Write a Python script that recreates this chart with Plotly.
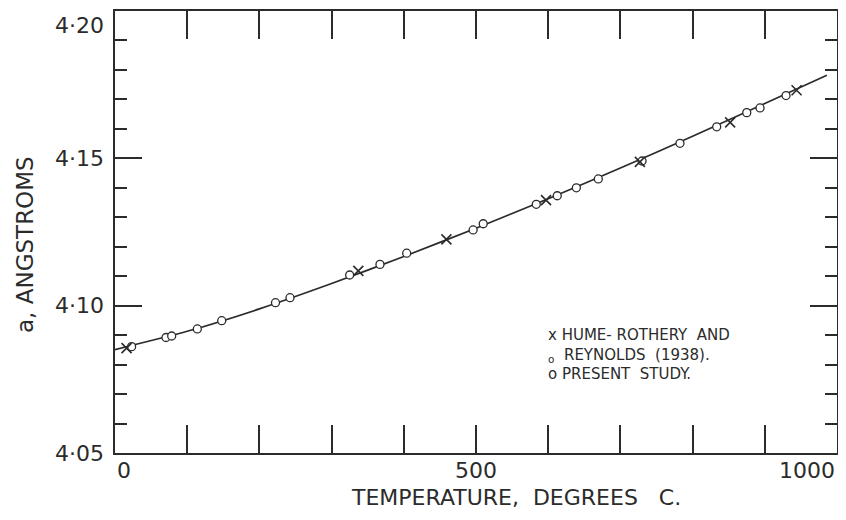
import plotly.graph_objects as go

# ---- data ----
present_x = [23, 70.6, 78.5, 114, 147.8, 222.3, 242.4, 325, 367, 404, 496, 510,
             583.5, 612.5, 639, 669.4, 730, 782.5, 833.4, 875, 893.4, 929.4]
present_y = [4.0861, 4.0892, 4.0897, 4.0921, 4.0949, 4.1010, 4.1027, 4.1104, 4.1140,
             4.1178, 4.1257, 4.1278, 4.1344, 4.1373, 4.1400, 4.1430, 4.1491, 4.1551,
             4.1607, 4.1655, 4.1671, 4.1713]

hr_x = [16, 337, 459, 597, 727, 852, 944]
hr_y = [4.0856, 4.1118, 4.1225, 4.1358, 4.1488, 4.1622, 4.1731]

curve_x = [0, 100, 200, 300, 400, 500, 600, 700, 800, 900, 986]
curve_y = [4.0851, 4.0913, 4.0989, 4.1075, 4.1167, 4.1263, 4.1363, 4.1467,
           4.1575, 4.1686, 4.1782]

y_tick_vals = [4.05, 4.10, 4.15, 4.20]
y_tick_text = ["4·05", "4·10", "4·15", "4·20"]
y_label_anchor = ["middle", "middle", "middle", "top"]
x_label_vals = [0, 500, 1000]
x_label_text = ["0", "500", "1000"]
x_label_anchor = ["left", "center", "right"]

legend_lines = ["x HUME- ROTHERY  AND", "<sub>o</sub>  REYNOLDS  (1938).", "o PRESENT  STUDY."]

INK = "#2b2b2b"
FONT = "DejaVu Sans"

fig = go.Figure()
fig.add_trace(go.Scatter(x=curve_x, y=curve_y, mode="lines",
                         line=dict(color=INK, width=1.7, shape="spline", smoothing=0.6),
                         hoverinfo="skip"))
fig.add_trace(go.Scatter(x=present_x, y=present_y, mode="markers",
                         marker=dict(symbol="circle", size=8, color="white",
                                     line=dict(color=INK, width=1.3))))
fig.add_trace(go.Scatter(x=hr_x, y=hr_y, mode="markers",
                         marker=dict(symbol="x-thin-open", size=10, color=INK,
                                     line=dict(color=INK, width=1.6))))

# the page body adds an 8px offset, so the figure is sized to fit the window
fig.update_layout(
    template="none",
    width=838, height=512,
    margin=dict(l=107, r=9, t=3, b=67, autoexpand=False),
    paper_bgcolor="white", plot_bgcolor="white",
    showlegend=False,
    font=dict(family=FONT, color=INK),
)

fig.update_xaxes(
    range=[0, 1000], showgrid=False, zeroline=False, automargin=False,
    showline=True, linecolor=INK, linewidth=2.4, mirror="ticks",
    ticks="inside", tickmode="array", tickvals=x_label_vals, ticklen=28,
    tickwidth=1.8, tickcolor=INK, showticklabels=False,
    minor=dict(tickmode="linear", tick0=0, dtick=100, ticks="inside",
               ticklen=28, tickwidth=1.8, tickcolor=INK, showgrid=False),
)
fig.update_yaxes(
    range=[4.05, 4.20], showgrid=False, zeroline=False, automargin=False,
    showline=True, linecolor=INK, linewidth=2.4, mirror="ticks",
    ticks="inside", tickmode="array", tickvals=y_tick_vals,
    ticklen=27, tickwidth=1.8, tickcolor=INK, showticklabels=False,
    minor=dict(tickmode="linear", tick0=4.05, dtick=0.01, ticks="inside",
               ticklen=12, tickwidth=1.8, tickcolor=INK, showgrid=False),
)

ann = []
for v, t, a in zip(x_label_vals, x_label_text, x_label_anchor):
    ann.append(dict(x=v, y=0, xref="x", yref="paper", text=t, showarrow=False,
                    xanchor=a, yanchor="middle", yshift=-17,
                    font=dict(family=FONT, size=22, color=INK)))
for v, t, a in zip(y_tick_vals, y_tick_text, y_label_anchor):
    ann.append(dict(x=0, y=v, xref="paper", yref="y", text=t, showarrow=False,
                    xanchor="right", yanchor=a, xshift=-9,
                    font=dict(family=FONT, size=22, color=INK)))

ann.append(dict(x=0.5554, y=0, xref="paper", yref="paper",
                text="TEMPERATURE,  DEGREES   C.", showarrow=False,
                xanchor="center", yanchor="middle", yshift=-44,
                font=dict(family=FONT, size=22, color=INK)))
ann.append(dict(x=0, y=0.4706, xref="paper", yref="paper",
                text="a, ANGSTROMS", showarrow=False, textangle=-90,
                xanchor="center", yanchor="middle", xshift=-90,
                font=dict(family=FONT, size=23, color=INK)))

ann.append(dict(x=597, y=4.0835, xref="x", yref="y", text="<br>".join(legend_lines),
                showarrow=False, xanchor="left", yanchor="middle", align="left",
                font=dict(family=FONT, size=15, color=INK)))

fig.update_layout(annotations=ann)
fig.write_html("out.html")
